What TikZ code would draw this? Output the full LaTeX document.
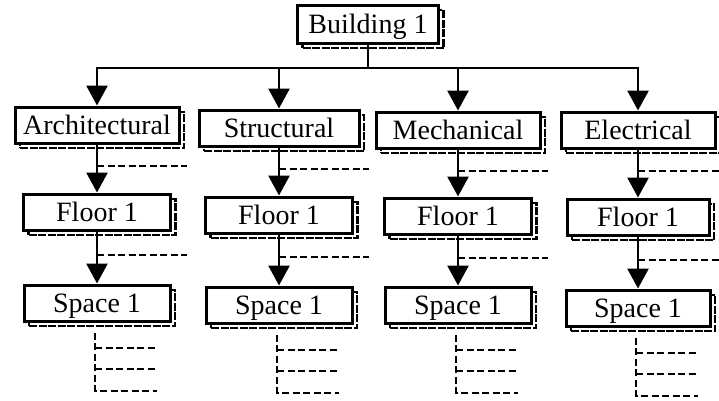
\documentclass[tikz,border=0pt]{standalone}
\usepackage{fontspec}
\setmainfont{Liberation Serif}
\usepackage{tikz}
\usetikzlibrary{arrows.meta, calc, shadows}

\begin{document}
\begin{tikzpicture}[x=1pt, y=-1pt,
  box/.style={draw, line width=3pt, fill=white, minimum height=36pt, inner sep=0pt,
    text height=18pt, text depth=0pt,
    font=\fontsize{28}{30}\selectfont,
    copy shadow={shadow xshift=5pt, shadow yshift=-5pt, draw=black, fill=white,
      line width=2.2pt, dash pattern=on 8pt off 1.5pt}},
  trunk/.style={line width=2.8pt},
  link/.style={line width=2.8pt, -{Triangle[width=21pt, length=20pt]}},
  stub/.style={line width=2pt, dash pattern=on 7pt off 3.5pt}]
  \useasboundingbox (0,0) rectangle (719,400);

  % Top of the tree
  \node[box, minimum width=141pt, minimum height=38pt] (bldg) at (368,24) {Building 1};

  % Disciplines
  \node[box, minimum width=164pt] (arch)   at (97,125)  {Architectural};
  \node[box, minimum width=160pt] (struct) at (279,128) {Structural};
  \node[box, minimum width=164pt] (mech)   at (458,130) {Mechanical};
  \node[box, minimum width=154pt] (elec)   at (638,130) {Electrical};

  % Floors
  \node[box, minimum width=147pt] (arch-floor)   at (97,212)  {Floor 1};
  \node[box, minimum width=147pt] (struct-floor) at (279,215) {Floor 1};
  \node[box, minimum width=147pt] (mech-floor)   at (458,216) {Floor 1};
  \node[box, minimum width=142pt] (elec-floor)   at (638,217) {Floor 1};

  % Spaces
  \node[box, minimum width=146pt] (arch-space)   at (97,303)  {Space 1};
  \node[box, minimum width=146pt] (struct-space) at (279,305) {Space 1};
  \node[box, minimum width=146pt] (mech-space)   at (458,305) {Space 1};
  \node[box, minimum width=144pt] (elec-space)   at (638,308) {Space 1};

  % Bus from the building down to each discipline
  \coordinate (bus) at (368,68);
  \draw[trunk] (bldg.south) -- (bus);
  \foreach \n in {arch, struct, mech, elec} {
    \draw[link] (bus) -| (\n.north);
  }

  % Stems, with dashed stubs for further siblings
  \foreach \n in {arch, struct, mech, elec} {
    \draw[link] (\n) -- (\n-floor);
    \draw[link] (\n-floor) -- (\n-space);
    \draw[stub] ($(\n.south)!0.45!(\n-floor.north)$) -- ++(90,0);
    \draw[stub] ($(\n-floor.south)!0.45!(\n-space.north)$) -- ++(90,0);
    % open branches under each space
    \draw[stub] ($(\n-space.south)+(-2,10)$) -- ++(0,58) -- ++(62,0);
    \draw[stub] ($(\n-space.south)+(-2,25)$) -- ++(62,0);
    \draw[stub] ($(\n-space.south)+(-2,46)$) -- ++(62,0);
  }
\end{tikzpicture}
\end{document}
